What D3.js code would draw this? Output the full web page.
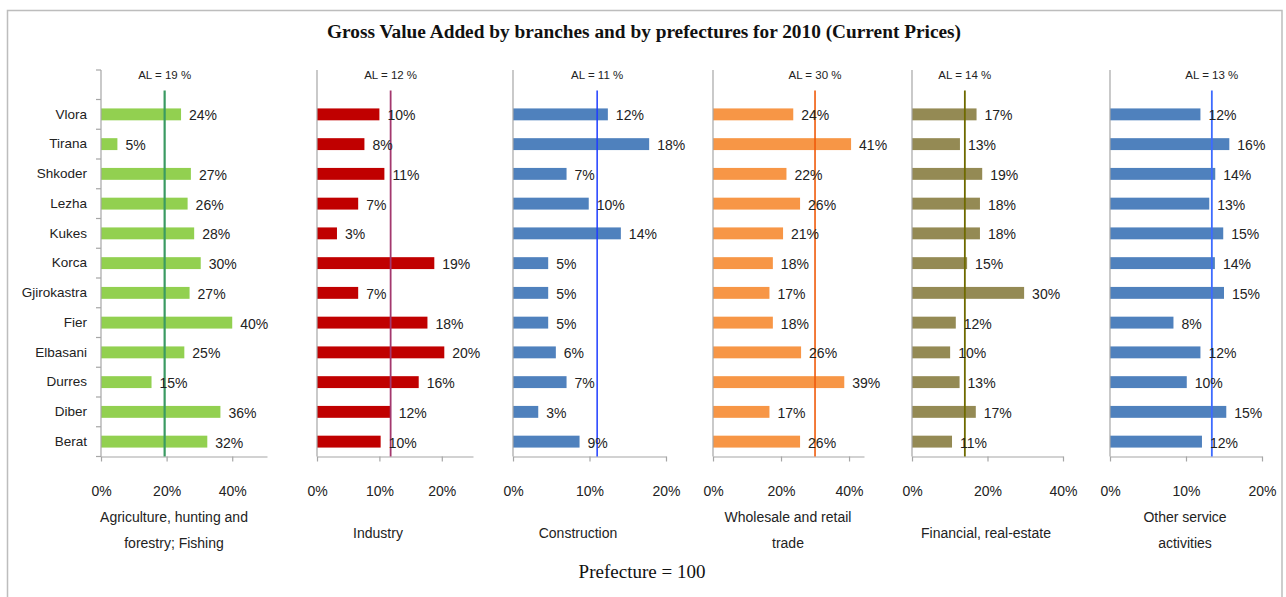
<!DOCTYPE html>
<html>
<head>
<meta charset="utf-8">
<script src="https://cdn.jsdelivr.net/npm/d3@7/dist/d3.min.js"></script>
<style>
  html, body { margin: 0; padding: 0; background: #fff; }
  svg { display: block; }
</style>
</head>
<body>
<svg id="chart" width="1286" height="597"></svg>
<script>
// ---------------- DATA ----------------
const categories = ["Vlora","Tirana","Shkoder","Lezha","Kukes","Korca","Gjirokastra","Fier","Elbasani","Durres","Diber","Berat"];
const branchTitles = [
  ["Agriculture, hunting and", "forestry; Fishing"],
  ["Industry"],
  ["Construction"],
  ["Wholesale and retail", "trade"],
  ["Financial, real-estate"],
  ["Other service", "activities"]
];
const agriculture   = [24.4, 5.0, 27.4, 26.4, 28.4, 30.4, 27.0, 40.0, 25.4, 15.4, 36.4, 32.4];
const industry      = [10.0, 7.6, 10.8, 6.6, 3.2, 18.8, 6.6, 17.7, 20.4, 16.3, 11.8, 10.2];
const construction  = [12.4, 17.8, 7.0, 9.9, 14.1, 4.6, 4.6, 4.6, 5.6, 7.0, 3.3, 8.7];
const wholesale     = [23.6, 40.6, 21.6, 25.6, 20.6, 17.6, 16.6, 17.6, 25.9, 38.6, 16.6, 25.6];
const financial     = [17.1, 12.7, 18.6, 18.0, 18.0, 14.6, 29.7, 11.6, 10.1, 12.6, 16.9, 10.6];
const otherServices = [11.9, 15.7, 13.85, 13.06, 14.9, 13.8, 15.0, 8.35, 11.9, 10.1, 15.3, 12.1];
const albaniaAverage = [19.4, 11.8, 11.0, 30.0, 14.0, 13.4];
const tickValuesList = [[0,20,40],[0,10,20],[0,10,20],[0,20,40],[0,20,40],[0,10,20]];
const mainTitle = "Gross Value Added by branches and by prefectures for 2010 (Current Prices)";
const footerText = "Prefecture = 100";

const seriesList = [agriculture, industry, construction, wholesale, financial, otherServices];

// ---------------- LAYOUT / STYLE ----------------
const layout = [
  {x0: 101, x1: 267, max: 50.6, tcx: 174, bar: "#92d050", al: "#3a9a62", alw: 2.2},
  {x0: 317, x1: 473, max: 25,   tcx: 378, bar: "#c00000", al: "#a3386e", alw: 1.8},
  {x0: 513, x1: 666, max: 20,   tcx: 578, bar: "#4f81bd", al: "#1f3dff", alw: 1.5},
  {x0: 713, x1: 864, max: 44.4, tcx: 788, bar: "#f79646", al: "#f05a0a", alw: 1.6},
  {x0: 912, x1: 1063, max: 40,  tcx: 986, bar: "#948a54", al: "#6e6a00", alw: 1.8},
  {x0: 1110, x1: 1262, max: 20, tcx: 1185, bar: "#4f81bd", al: "#3d6bff", alw: 1.8}
];
const yTop = 70, yBandTop = 99.5, yBottom = 456.5, alTop = 90.5;
const textColor = "#222";
const sansFont = "'Liberation Sans', Arial, sans-serif";
const serifFont = "'Liberation Serif', 'Times New Roman', serif";
const axisColor = "#a6a6a6";

const svg = d3.select("#chart");

// frame
svg.append("rect").attr("x", 7.5).attr("y", 10.5).attr("width", 1274.5).attr("height", 600)
  .attr("fill", "none").attr("stroke", "#bdbdbd").attr("stroke-width", 1.5);

// title
svg.append("text").attr("x", 644).attr("y", 38).attr("text-anchor", "middle")
  .attr("font-family", serifFont).attr("font-size", 18).attr("font-weight", "bold")
  .attr("fill", "#111").attr("textLength", 634).attr("lengthAdjust", "spacingAndGlyphs")
  .text(mainTitle);

// footer
svg.append("text").attr("x", 642).attr("y", 578).attr("text-anchor", "middle")
  .attr("font-family", serifFont).attr("font-size", 19)
  .attr("fill", "#111").text(footerText);

const y = d3.scaleBand().domain(categories).range([yBandTop, yBottom]).padding(0);
const bw = y.bandwidth();

seriesList.forEach((vals, i) => {
  const L = layout[i];
  const x = d3.scaleLinear().domain([0, L.max]).range([L.x0, L.x1]);
  const g = svg.append("g");

  // bars
  g.selectAll("rect.bar").data(vals).join("rect")
    .attr("class", "bar")
    .attr("x", x(0))
    .attr("y", (d, j) => y(categories[j]) + bw * 0.3)
    .attr("width", d => x(d) - x(0))
    .attr("height", bw * 0.4)
    .attr("fill", L.bar);

  // x axis
  const xAxis = d3.axisBottom(x).tickValues(tickValuesList[i])
    .tickFormat(d => d + "%").tickSize(5).tickSizeOuter(0).tickPadding(25);
  const ax = g.append("g").attr("transform", `translate(0,${yBottom})`).call(xAxis);
  ax.select(".domain").attr("stroke", axisColor).attr("stroke-width", 1.2);
  ax.selectAll(".tick line").attr("stroke", axisColor).attr("stroke-width", 1.2);
  ax.selectAll(".tick text").attr("font-family", sansFont).attr("font-size", 14).attr("fill", textColor);

  // vertical axis line
  g.append("line").attr("x1", x(0)).attr("x2", x(0)).attr("y1", yTop).attr("y2", yBottom)
    .attr("stroke", axisColor).attr("stroke-width", 1.2);

  if (i === 0) {
    const boundaries = [yTop].concat(categories.map(c => y(c))).concat([yBottom]);
    g.selectAll("line.ctick").data(boundaries).join("line")
      .attr("class", "ctick")
      .attr("x1", x(0) - 5).attr("x2", x(0)).attr("y1", d => d).attr("y2", d => d)
      .attr("stroke", axisColor).attr("stroke-width", 1.2);
    const yAxis = d3.axisLeft(y).tickSize(0).tickPadding(14);
    const ay = g.append("g").attr("transform", `translate(${x(0)},0)`).call(yAxis);
    ay.select(".domain").remove();
    ay.selectAll(".tick text").attr("font-family", sansFont).attr("font-size", 13.5).attr("fill", textColor);
  }

  // average line
  const avg = albaniaAverage[i];
  g.append("line").attr("x1", x(avg)).attr("x2", x(avg)).attr("y1", alTop).attr("y2", yBottom)
    .attr("stroke", L.al).attr("stroke-width", L.alw);
  g.append("text").attr("x", x(avg)).attr("y", 79).attr("text-anchor", "middle")
    .attr("font-family", sansFont).attr("font-size", 11.5).attr("fill", textColor)
    .text(`AL = ${Math.round(avg)} %`);

  // value labels
  g.selectAll("text.val").data(vals).join("text")
    .attr("class", "val")
    .attr("x", d => x(d) + 8)
    .attr("y", (d, j) => y(categories[j]) + bw / 2 + 1)
    .attr("dy", "0.35em")
    .attr("font-family", sansFont).attr("font-size", 14).attr("fill", textColor)
    .text(d => Math.round(d) + "%");

  // axis title
  const lines = branchTitles[i];
  const baseY = lines.length === 1 ? 538 : 522;
  lines.forEach((t, k) => {
    g.append("text").attr("x", L.tcx).attr("y", baseY + k * 26).attr("text-anchor", "middle")
      .attr("font-family", sansFont).attr("font-size", 14).attr("fill", textColor).text(t);
  });
});
</script>
</body>
</html>
